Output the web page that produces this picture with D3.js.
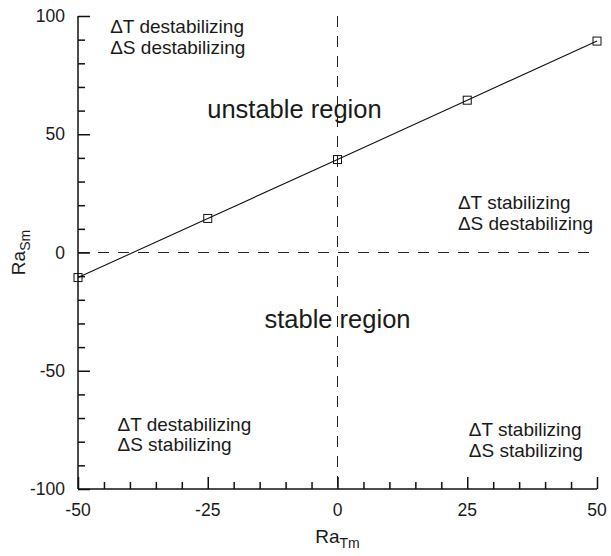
<!DOCTYPE html>
<html><head><meta charset="utf-8">
<script src="https://d3js.org/d3.v7.min.js"></script>
<style>body{margin:0;background:#fff}svg{display:block}text{font-family:"Liberation Sans",Arial,Helvetica,sans-serif;fill:#1a1a1a}</style>
</head><body>
<script>
const raT = [-50, -25, 0, 25, 50];
const raS = [-10.6, 14.4, 39.3, 64.4, 89.4];
const xTickValues = [-50, -25, 0, 25, 50];
const yTickValues = [-100, -50, 0, 50, 100];
const annotations = [
  {x: -43.8, y: 98.5, lines: ["\u0394T destabilizing", "\u0394S destabilizing"]},
  {x: 23.2, y: 24, lines: ["\u0394T stabilizing", "\u0394S destabilizing"]},
  {x: -42.4, y: -69.5, lines: ["\u0394T destabilizing", "\u0394S stabilizing"]},
  {x: 25.3, y: -72, lines: ["\u0394T stabilizing", "\u0394S stabilizing"]}
];
const regionLabels = [
  {x: -8.3, y: 60.5, text: "unstable region"},
  {x: 0, y: -28, text: "stable region"}
];

const W = 611, H = 556;
const m = {l: 78, r: 14, t: 16, b: 67};
const svg = d3.select("body").append("svg").attr("width", W).attr("height", H);
const x = d3.scaleLinear().domain([-50, 50]).range([m.l, W - m.r]);
const y = d3.scaleLinear().domain([-100, 100]).range([H - m.b, m.t]);

// dashed reference lines
svg.append("line").attr("x1", x(-50)).attr("x2", x(50)).attr("y1", y(0)).attr("y2", y(0))
  .attr("stroke", "#222").attr("stroke-width", 1).attr("stroke-dasharray", "11,9");
svg.append("line").attr("x1", x(0)).attr("x2", x(0)).attr("y1", y(100)).attr("y2", y(-100))
  .attr("stroke", "#222").attr("stroke-width", 1).attr("stroke-dasharray", "11,9");

// axes with inward ticks
const gx = svg.append("g").attr("transform", `translate(0,${y(-100)})`);
gx.call(d3.axisTop(x).tickValues(d3.range(-50, 51, 5)).tickSize(7).tickFormat(""));
gx.call(g => g.selectAll(".tick line").filter(d => xTickValues.includes(d)).attr("y2", -12));
gx.selectAll("path,line").attr("stroke", "#111").attr("stroke-width", 1.5);
gx.select(".domain").attr("d", `M${x(-50)},0H${x(50)}`);
xTickValues.forEach(v => gx.append("text").attr("x", x(v)).attr("y", 27).attr("text-anchor", "middle")
  .attr("font-size", 17.5).text(v));

const gy = svg.append("g").attr("transform", `translate(${x(-50)},0)`);
gy.call(d3.axisRight(y).tickValues(d3.range(-100, 101, 10)).tickSize(7).tickFormat(""));
gy.call(g => g.selectAll(".tick line").filter(d => yTickValues.includes(d)).attr("x2", 12));
gy.selectAll("path,line").attr("stroke", "#111").attr("stroke-width", 1.5);
gy.select(".domain").attr("d", `M0,${y(-100)}V${y(100)}`);
yTickValues.forEach(v => gy.append("text").attr("x", -13).attr("y", y(v)).attr("dy", "0.35em")
  .attr("text-anchor", "end").attr("font-size", 17.5).text(v));

// data line and markers
const pts = raT.map((t, i) => [t, raS[i]]);
svg.append("path").datum(pts).attr("fill", "none").attr("stroke", "#111").attr("stroke-width", 1.1)
  .attr("d", d3.line().x(d => x(d[0])).y(d => y(d[1])));
svg.selectAll("rect.mk").data(pts).join("rect").attr("class", "mk")
  .attr("x", d => x(d[0]) - 4).attr("y", d => y(d[1]) - 4).attr("width", 8).attr("height", 8)
  .attr("fill", "none").attr("stroke", "#111").attr("stroke-width", 1);

// annotations
annotations.forEach(a => {
  const t = svg.append("text").attr("x", x(a.x)).attr("y", y(a.y)).attr("font-size", 19);
  a.lines.forEach((l, i) => t.append("tspan").attr("x", x(a.x)).attr("dy", i === 0 ? "0.72em" : "1.1em").text(l));
});
regionLabels.forEach(r => svg.append("text").attr("x", x(r.x)).attr("y", y(r.y)).attr("dy", "0.35em")
  .attr("text-anchor", "middle").attr("font-size", 25.5).text(r.text));

// axis titles
const xt = svg.append("text").attr("x", x(0)).attr("y", 543).attr("text-anchor", "middle").attr("font-size", 19);
xt.append("tspan").text("Ra");
xt.append("tspan").attr("font-size", 14).attr("dy", 5).text("Tm");
const yt = svg.append("text").attr("transform", `translate(25,${y(0)}) rotate(-90)`).attr("text-anchor", "middle").attr("font-size", 19);
yt.append("tspan").text("Ra");
yt.append("tspan").attr("font-size", 14).attr("dy", 5).text("Sm");
</script>
</body></html>
